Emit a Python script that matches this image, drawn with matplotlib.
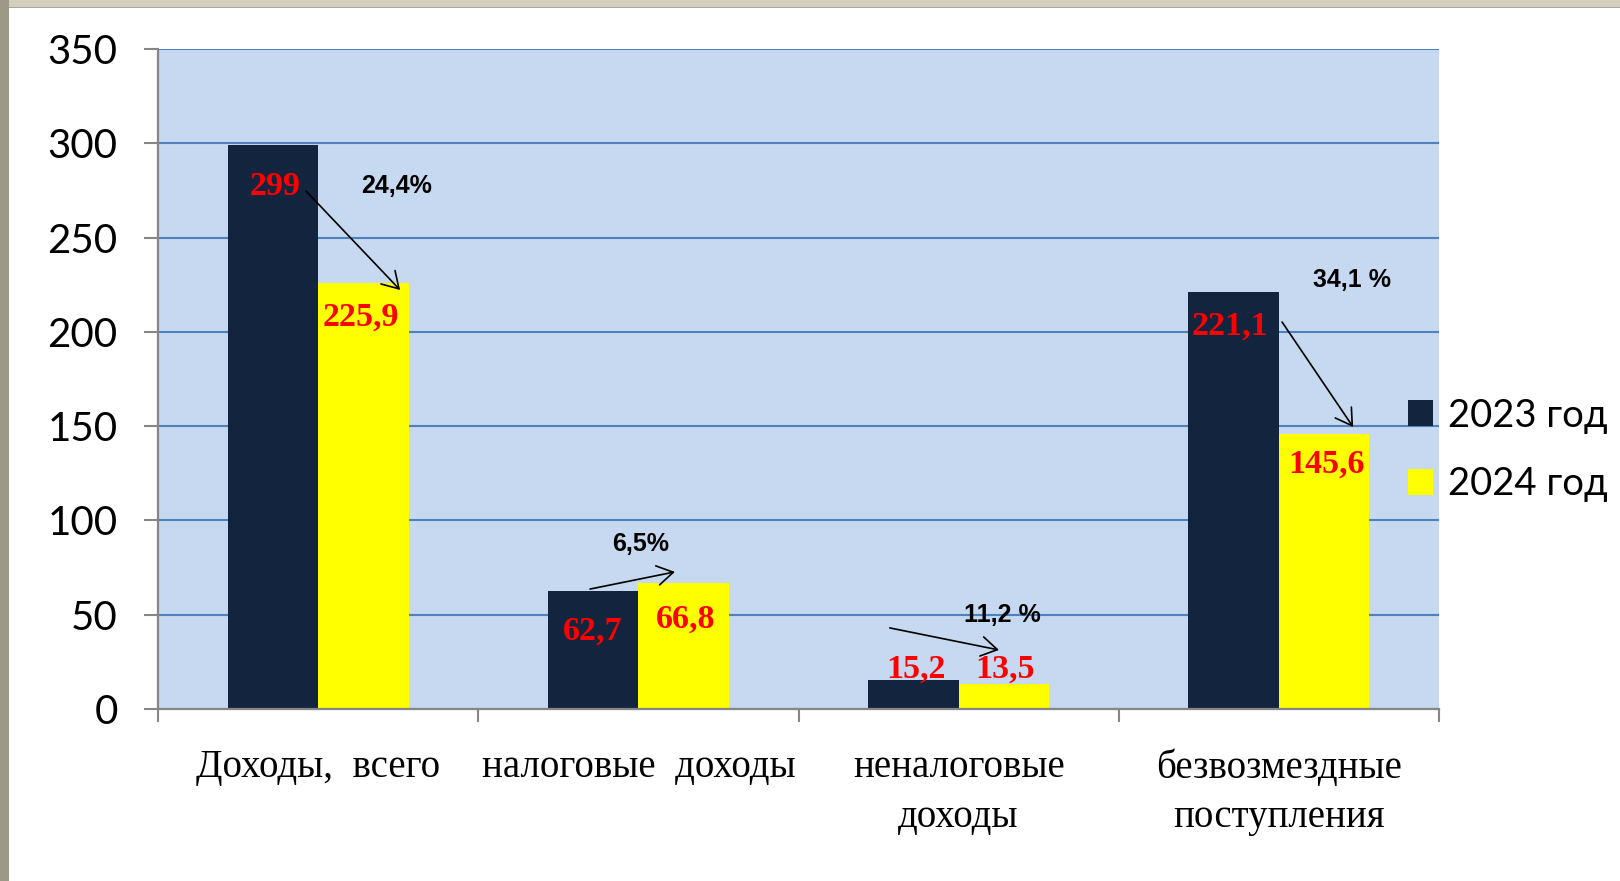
import matplotlib
matplotlib.use("Agg")
import matplotlib.pyplot as plt
from matplotlib.patches import Rectangle
import numpy as np

# ---- data ----
categories = ["Доходы,  всего", "налоговые  доходы", "неналоговые\nдоходы", "безвозмездные\nпоступления"]
series_names = ["2023 год", "2024 год"]
values_2023 = [299, 62.7, 15.2, 221.1]
values_2024 = [225.9, 66.8, 13.5, 145.6]
labels_2023 = ["299", "62,7", "15,2", "221,1"]
labels_2024 = ["225,9", "66,8", "13,5", "145,6"]
pct_labels = ["24,4%", "6,5%", "11,2 %", "34,1 %"]
y_ticks = [0, 50, 100, 150, 200, 250, 300, 350]

# annotation placement (x offset from category centre, y in data units)
lab23_pos = [(-0.135, 272.6), (-0.142, 36.6), (-0.133, 16.4), (-0.153, 198.3)]
lab24_pos = [(0.134, 203.4), (0.149, 43.0), (0.145, 16.4), (0.150, 125.2)]
pct_pos = [(0.246, 273.6), (0.008, 83.8), (0.136, 46.1), (0.228, 223.8)]
arrow_from = [(-0.038, 274.7), (-0.151, 63.6), (-0.215, 43.0), (0.010, 205.2)]
arrow_to = [(0.256, 222.2), (0.114, 72.7), (0.126, 31.3), (0.232, 149.5)]

# ---- styles ----
DARK = "#12243E"
YELLOW = "#FFFF00"
BG = "#C6D9F0"
GRID = "#4F81BD"
AXIS = "#868686"

W, H = 1620, 881
fig = plt.figure(figsize=(W / 100, H / 100), dpi=100)
fig.patch.set_facecolor("white")

ax = fig.add_axes([158 / W, 1 - 709 / H, (1439 - 158) / W, (709 - 49) / H])
ax.set_facecolor(BG)

x = np.arange(len(categories))
bw = 0.2828
b1 = ax.bar(x - bw / 2, values_2023, width=bw, color=DARK, label=series_names[0], zorder=2)
b2 = ax.bar(x + bw / 2, values_2024, width=bw, color=YELLOW, label=series_names[1], zorder=2)

ax.set_xlim(-0.5, len(categories) - 0.5)
ax.set_ylim(0, 350)

# grid
ax.set_axisbelow(True)
ax.yaxis.grid(True, color=GRID, lw=1.5)
ax.xaxis.grid(False)

for s in ["top", "right"]:
    ax.spines[s].set_visible(False)
for s in ["left", "bottom"]:
    ax.spines[s].set_color(AXIS)
    ax.spines[s].set_linewidth(1.6)
    ax.spines[s].set_zorder(3)

# y ticks
ax.set_yticks(y_ticks)
ax.set_yticklabels([str(v) for v in y_ticks], fontfamily="Lato", fontsize=29)
ax.tick_params(axis="y", direction="out", length=10, width=1.5, color=AXIS, pad=19)

# x ticks: labels at centres, tick marks at boundaries
ax.set_xticks(x)
ax.set_xticklabels(categories, fontfamily="Liberation Serif", fontsize=28, linespacing=1.45)
ax.tick_params(axis="x", which="major", length=0, pad=29)
ax.set_xticks(np.arange(len(categories) + 1) - 0.5, minor=True)
ax.tick_params(axis="x", which="minor", direction="out", length=9.5, width=1.5, color=AXIS)

# value labels
for i in range(len(categories)):
    ax.text(i + lab23_pos[i][0], lab23_pos[i][1], labels_2023[i], color="red",
            fontfamily="Liberation Serif", fontweight="bold", fontsize=24.5,
            ha="center", va="baseline", zorder=5)
    ax.text(i + lab24_pos[i][0], lab24_pos[i][1], labels_2024[i], color="red",
            fontfamily="Liberation Serif", fontweight="bold", fontsize=24.5,
            ha="center", va="baseline", zorder=5)
    ax.text(i + pct_pos[i][0], pct_pos[i][1], pct_labels[i], color="black",
            fontfamily="Liberation Sans", fontweight="bold", fontsize=18,
            ha="center", va="baseline", zorder=5)
    ax.annotate("", xy=(i + arrow_to[i][0], arrow_to[i][1]),
                xytext=(i + arrow_from[i][0], arrow_from[i][1]),
                arrowprops=dict(arrowstyle="->,head_length=1.15,head_width=0.7",
                                mutation_scale=10, color="black", lw=1.2,
                                shrinkA=0, shrinkB=0),
                zorder=6)

# legend
leg = ax.legend(handles=[b1, b2], loc="center left",
                bbox_to_anchor=(1408 / W, 1 - 450 / H), bbox_transform=fig.transFigure,
                frameon=False, borderpad=0, borderaxespad=0,
                handlelength=0.655, handleheight=0.655, handletextpad=0.39,
                labelspacing=0.86, prop=dict(family="Lato", size=27.5))

# window frame
fig.add_artist(Rectangle((0, 1 - 7 / H), 1, 7 / H, transform=fig.transFigure,
                         facecolor="#D3CFBF", edgecolor="none"))
fig.add_artist(Rectangle((0, 1 - 8 / H), 1, 1.2 / H, transform=fig.transFigure,
                         facecolor="#A6A6A6", edgecolor="none"))
fig.add_artist(Rectangle((0, 0), 9 / W, 1, transform=fig.transFigure,
                         facecolor="#9C9988", edgecolor="none"))

fig.savefig("out.png", dpi=100)
